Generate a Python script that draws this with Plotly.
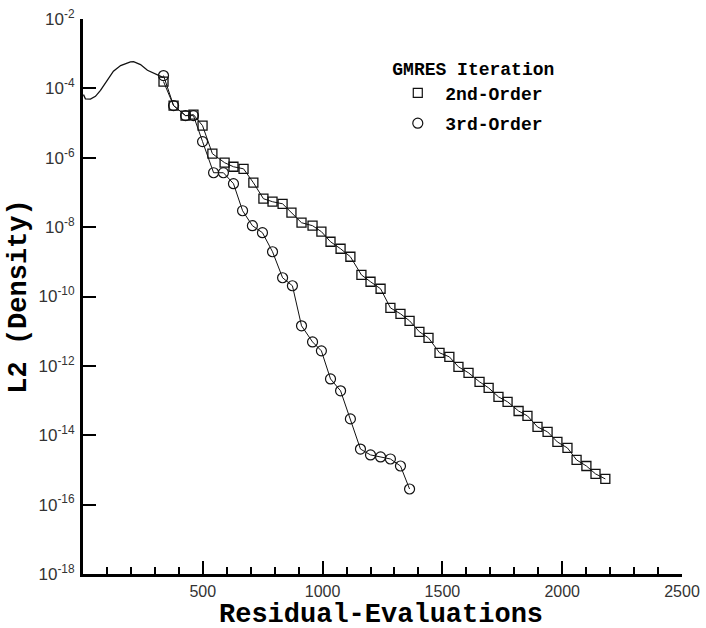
import plotly.graph_objects as go

# ---- data ----
startup_x = [2, 10, 31, 52, 73, 94, 127, 157, 198, 211, 240, 269, 311, 336]
startup_y = [6.6e-5, 5.0e-5, 4.9e-5, 5.9e-5, 8.8e-5, 1.44e-4, 3.12e-4, 4.55e-4,
             5.8e-4, 5.9e-4, 4.86e-4, 3.33e-4, 2.5e-4, 2.05e-4]

second_x = [336, 378, 428, 461, 499, 540, 591, 628, 670, 711, 753, 791, 833, 870,
            912, 958, 995, 1033, 1075, 1116, 1162, 1200, 1242, 1283, 1325, 1363,
            1404, 1442, 1488, 1529, 1567, 1609, 1655, 1693, 1734, 1772, 1818, 1855,
            1897, 1939, 1980, 2022, 2060, 2101, 2139, 2180]
second_y = [1.57e-4, 3.19e-5, 1.64e-5, 1.75e-5, 8.4e-6, 1.31e-6, 7.2e-7, 5.5e-7,
            4.8e-7, 1.91e-7, 6.6e-8, 5.4e-8, 4.7e-8, 2.61e-8, 1.34e-8, 1.10e-8,
            7.4e-9, 3.79e-9, 2.38e-9, 1.40e-9, 4.2e-10, 2.66e-10, 1.67e-10, 4.7e-11,
            3.17e-11, 1.99e-11, 9.6e-12, 6.4e-12, 2.38e-12, 1.82e-12, 9.4e-13, 6.3e-13,
            3.47e-13, 2.32e-13, 1.28e-13, 9.2e-14, 5.0e-14, 3.61e-14, 1.74e-14,
            1.25e-14, 6.4e-15, 4.3e-15, 1.94e-15, 1.30e-15, 7.7e-16, 5.5e-16]

third_x = [336, 378, 428, 461, 499, 545, 586, 628, 666, 707, 749, 791, 833, 874,
           912, 958, 995, 1033, 1075, 1116, 1158, 1200, 1242, 1283, 1325, 1363]
third_y = [2.34e-4, 3.19e-5, 1.64e-5, 1.64e-5, 2.92e-6, 3.7e-7, 3.7e-7, 1.79e-7,
           2.97e-8, 1.10e-8, 6.9e-9, 1.95e-9, 3.47e-10, 2.04e-10, 1.43e-11, 4.9e-12,
           2.71e-12, 4.2e-13, 1.91e-13, 2.96e-14, 4.0e-15, 2.71e-15, 2.37e-15,
           2.07e-15, 1.30e-15, 2.82e-16]

x_tickvals = [500, 1000, 1500, 2000, 2500]
y_exponents = [-2, -4, -6, -8, -10, -12, -14, -16, -18]
y_tickvals = [10.0 ** e for e in y_exponents]
y_ticktext = ["10<sup>%d</sup>" % e for e in y_exponents]

legend_title = "GMRES Iteration"
series_names = ["2nd-Order", "3rd-Order"]
x_title = "Residual-Evaluations"
y_title = "L2 (Density)"

# ---- figure ----
MONO = "Liberation Mono"
SANS = "Liberation Sans"
INK = "#111111"

fig = go.Figure()

fig.add_trace(go.Scatter(x=startup_x, y=startup_y, mode="lines",
                         line=dict(color=INK, width=1.3), showlegend=False,
                         hoverinfo="skip"))
fig.add_trace(go.Scatter(x=second_x, y=second_y, mode="lines+markers",
                         line=dict(color=INK, width=1),
                         marker=dict(symbol="square-open", size=9, color=INK,
                                     line=dict(color=INK, width=1.3)),
                         showlegend=False, name=series_names[0]))
fig.add_trace(go.Scatter(x=third_x, y=third_y, mode="lines+markers",
                         line=dict(color=INK, width=1),
                         marker=dict(symbol="circle-open", size=10, color=INK,
                                     line=dict(color=INK, width=1.2)),
                         showlegend=False, name=series_names[1]))

# legend entries (marker only, as in the reference)
fig.add_trace(go.Scatter(x=[None], y=[None], mode="markers", name=series_names[0],
                         legendgroup="a",
                         marker=dict(symbol="square-open", size=9, color=INK,
                                     line=dict(color=INK, width=1.2))))
fig.add_trace(go.Scatter(x=[None], y=[None], mode="markers", name=series_names[1],
                         legendgroup="b",
                         marker=dict(symbol="circle-open", size=10, color=INK,
                                     line=dict(color=INK, width=1.2))))

fig.update_layout(
    width=706, height=628,
    margin=dict(l=83, r=24, t=19, b=54),
    paper_bgcolor="white", plot_bgcolor="white",
    showlegend=True,
    legend=dict(
        x=0.513, y=0.942, xanchor="left", yanchor="top",
        title=dict(text="<b>%s</b>" % legend_title,
                   font=dict(family=MONO, size=18, color="black")),
        font=dict(family=MONO, size=18, color="black", weight="bold"),
        itemwidth=45, bgcolor="rgba(0,0,0,0)",
        traceorder="grouped", tracegroupgap=4,
    ),
    annotations=[dict(
        text="<b>%s</b>" % x_title, xref="paper", yref="paper",
        x=0.497, y=-0.074, xanchor="center", yanchor="middle", showarrow=False,
        font=dict(family=MONO, size=27, color="black"),
    )],
)

fig.update_xaxes(
    range=[0, 2500], showgrid=False, zeroline=False, automargin=False,
    showline=True, linecolor="black", linewidth=3,
    tickmode="array", tickvals=x_tickvals,
    ticks="inside", ticklen=13, tickwidth=2, tickcolor="black",
    tickfont=dict(family=SANS, size=16, color="#333333"),
    ticklabelstandoff=1,
    minor=dict(ticks="inside", ticklen=7, tickwidth=1.5, tickcolor="black",
               dtick=100, tick0=0, showgrid=False),
)

fig.update_yaxes(
    type="log", range=[-18, -2], showgrid=False, zeroline=False, automargin=False,
    showline=True, linecolor="black", linewidth=3,
    tickmode="array", tickvals=y_tickvals, ticktext=y_ticktext,
    ticks="inside", ticklen=13, tickwidth=2, tickcolor="black",
    tickfont=dict(family=SANS, size=17, color="#333333"),
    ticklabelstandoff=2,
    title=dict(text="<b>%s</b>" % y_title,
               font=dict(family=MONO, size=27, color="black"), standoff=5),
)

fig.write_html("out.html",
               config={"displayModeBar": False},
               post_script="document.body.style.margin='0px';"
                           "document.body.style.overflow='hidden';")
